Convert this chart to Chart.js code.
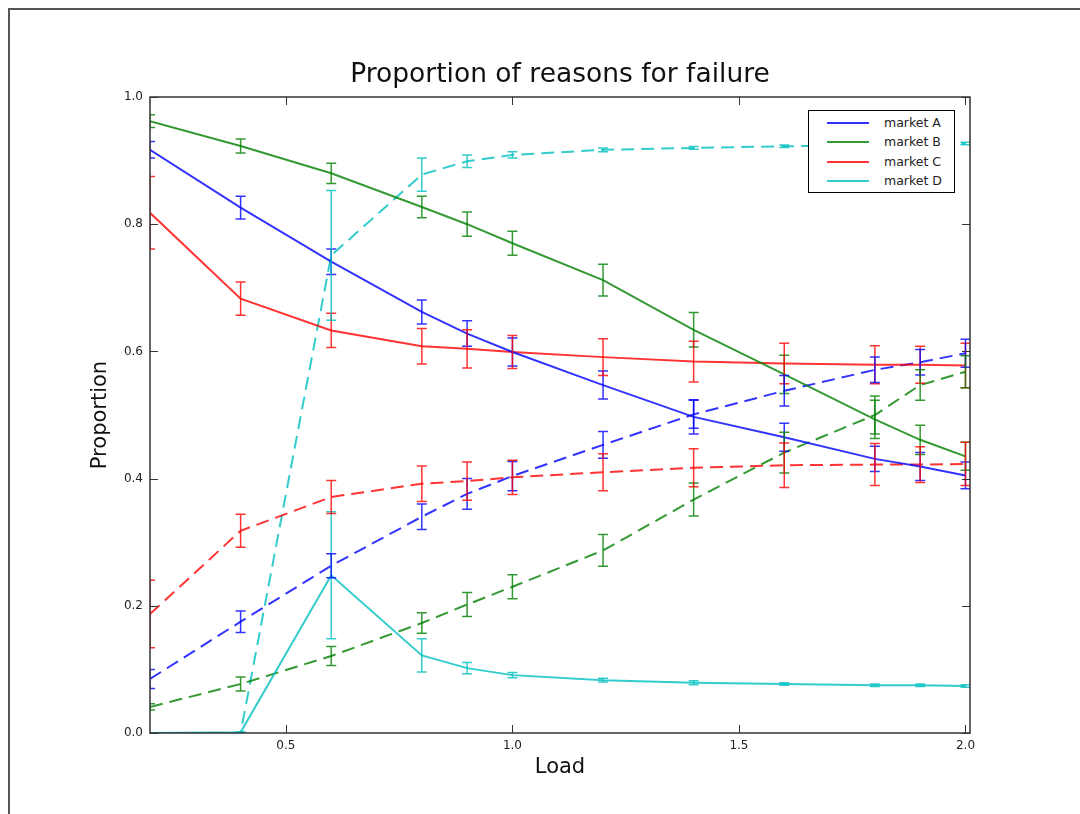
<!DOCTYPE html>
<html>
<head>
<meta charset="utf-8">
<script src="https://cdn.jsdelivr.net/npm/chart.js@4/dist/chart.umd.min.js"></script>
<style>
  body { margin: 0; background: #fff; }
  #wrap { position: relative; width: 1080px; height: 814px; overflow: hidden; }
  #frame { position: absolute; left: 8px; top: 8px; width: 1100px; height: 840px;
           border-left: 2px solid #555; border-top: 2px solid #555; }
  #myChart { position: absolute; left: 0; top: 0; }
  #legend { position: absolute; left: 808px; top: 110px; width: 145px; height: 81px;
            border: 1px solid #000; background: #fff;
            font-family: "DejaVu Sans", sans-serif; font-size: 12.5px; color: #222; }
  .row { position: absolute; left: 0; height: 16px; line-height: 16px; }
  .row span.ln { position: absolute; left: 18px; top: 7px; width: 42px; height: 0; border-top: 2px solid; }
  .row span.tx { position: absolute; left: 75px; top: 0; white-space: nowrap; }
</style>
</head>
<body>
<div id="wrap">
  <div id="frame"></div>
  <canvas id="myChart" width="1080" height="814"></canvas>
  <div id="legend"></div>
</div>
<script>
// loads on the x axis
let loads = [0.2, 0.4, 0.6, 0.8, 0.9, 1.0, 1.2, 1.4, 1.6, 1.8, 1.9, 2.0]

// solid lines and their error sizes
let aSolid = [0.917, 0.826, 0.741, 0.662, 0.628, 0.599, 0.547, 0.497, 0.465, 0.431, 0.419, 0.405]
let aSolidErr = [0.013, 0.018, 0.020, 0.019, 0.020, 0.022, 0.022, 0.027, 0.022, 0.020, 0.022, 0.021]
let bSolid = [0.962, 0.923, 0.880, 0.827, 0.800, 0.770, 0.712, 0.634, 0.564, 0.493, 0.461, 0.435]
let bSolidErr = [0.010, 0.011, 0.016, 0.017, 0.019, 0.019, 0.025, 0.027, 0.030, 0.030, 0.023, 0.022]
let cSolid = [0.818, 0.683, 0.633, 0.608, 0.604, 0.599, 0.591, 0.584, 0.581, 0.579, 0.579, 0.578]
let cSolidErr = [0.057, 0.026, 0.027, 0.028, 0.030, 0.026, 0.029, 0.032, 0.032, 0.030, 0.029, 0.035]
let dSolid = [0.0, 0.001, 0.248, 0.122, 0.102, 0.091, 0.083, 0.079, 0.077, 0.075, 0.075, 0.074]
let dSolidErr = [0.0, 0.001, 0.100, 0.026, 0.009, 0.004, 0.003, 0.003, 0.002, 0.002, 0.002, 0.002]

// dashed lines
let aDash = [0.085, 0.175, 0.263, 0.340, 0.376, 0.404, 0.453, 0.501, 0.538, 0.571, 0.583, 0.597]
let aDashErr = [0.015, 0.017, 0.019, 0.020, 0.024, 0.023, 0.021, 0.022, 0.024, 0.020, 0.020, 0.022]
let bDash = [0.041, 0.077, 0.121, 0.173, 0.202, 0.230, 0.287, 0.367, 0.441, 0.500, 0.547, 0.568]
let bDashErr = [0.005, 0.011, 0.015, 0.016, 0.019, 0.019, 0.025, 0.026, 0.032, 0.030, 0.024, 0.025]
let cDash = [0.187, 0.318, 0.371, 0.392, 0.396, 0.402, 0.410, 0.417, 0.421, 0.422, 0.422, 0.423]
let cDashErr = [0.053, 0.026, 0.026, 0.028, 0.030, 0.027, 0.029, 0.030, 0.035, 0.033, 0.028, 0.034]
let dDash = [0.0, 0.0, 0.751, 0.878, 0.899, 0.909, 0.917, 0.920, 0.9225, 0.924, 0.924, 0.927]
let dDashErr = [0.0, 0.0, 0.102, 0.026, 0.010, 0.005, 0.003, 0.002, 0.002, 0.002, 0.002, 0.002]

let xTicks = [0.5, 1.0, 1.5, 2.0]
let yTicks = [0.0, 0.2, 0.4, 0.6, 0.8, 1.0]

let marketNames = ['market A', 'market B', 'market C', 'market D']
let marketColors = ['rgba(0,0,255,0.8)', 'rgba(0,128,0,0.8)', 'rgba(255,0,0,0.8)', 'rgba(0,191,191,0.8)']

function pts(vals) {
  return vals.map((v, i) => ({ x: loads[i], y: v }))
}

function makeSet(label, vals, errs, color, dashed) {
  return {
    label: label,
    data: pts(vals),
    errs: errs,
    borderColor: color,
    backgroundColor: color,
    borderWidth: 2,
    borderDash: dashed ? [13, 7] : [],
    pointRadius: 0,
    tension: 0,
    fill: false
  }
}

let solids = [aSolid, bSolid, cSolid, dSolid]
let solidErrs = [aSolidErr, bSolidErr, cSolidErr, dSolidErr]
let dashes = [aDash, bDash, cDash, dDash]
let dashErrs = [aDashErr, bDashErr, cDashErr, dDashErr]

let datasets = []
for (let i = 0; i < 4; i++) {
  datasets.push(makeSet(marketNames[i], solids[i], solidErrs[i], marketColors[i], false))
}
for (let i = 0; i < 4; i++) {
  datasets.push(makeSet(marketNames[i] + ' (dashed)', dashes[i], dashErrs[i], marketColors[i], true))
}

// error bars with caps
const errorBars = {
  id: 'errorBars',
  afterDatasetsDraw(chart) {
    const c = chart.ctx, a = chart.chartArea
    const xs = chart.scales.x, ys = chart.scales.y
    c.save()
    c.beginPath()
    c.rect(a.left, a.top, a.right - a.left, a.bottom - a.top)
    c.clip()
    c.lineWidth = 1.5
    chart.data.datasets.forEach(ds => {
      c.strokeStyle = ds.borderColor
      ds.data.forEach((p, i) => {
        const e = ds.errs[i]
        if (!e) return
        const px = xs.getPixelForValue(p.x)
        const y1 = ys.getPixelForValue(p.y + e)
        const y2 = ys.getPixelForValue(p.y - e)
        c.beginPath()
        c.moveTo(px, y1); c.lineTo(px, y2)
        c.moveTo(px - 5, y1); c.lineTo(px + 5, y1)
        c.moveTo(px - 5, y2); c.lineTo(px + 5, y2)
        c.stroke()
      })
    })
    c.restore()
  }
}

// box round the plot and inward tick marks
const frameTicks = {
  id: 'frameTicks',
  afterDraw(chart) {
    const c = chart.ctx, a = chart.chartArea
    const xs = chart.scales.x, ys = chart.scales.y
    c.save()
    c.strokeStyle = '#333'
    c.lineWidth = 1.5
    c.strokeRect(a.left, a.top, a.right - a.left, a.bottom - a.top)
    c.lineWidth = 1
    c.beginPath()
    xTicks.forEach(t => {
      const px = Math.round(xs.getPixelForValue(t)) + 0.5
      c.moveTo(px, a.bottom); c.lineTo(px, a.bottom - 8)
      c.moveTo(px, a.top); c.lineTo(px, a.top + 8)
    })
    yTicks.forEach(t => {
      const py = Math.round(ys.getPixelForValue(t)) + 0.5
      c.moveTo(a.left, py); c.lineTo(a.left + 8, py)
      c.moveTo(a.right, py); c.lineTo(a.right - 8, py)
    })
    c.stroke()
    c.restore()
  }
}

const ctx = document.getElementById('myChart')
let chart_test = new Chart(ctx, {
  type: 'line',
  data: { datasets: datasets },
  plugins: [errorBars, frameTicks],
  options: {
    responsive: false,
    animation: false,
    layout: { padding: { left: 0, right: 110, top: 0, bottom: 0 } },
    plugins: {
      legend: { display: false },
      tooltip: { enabled: false },
      title: {
        display: true,
        fullSize: false, // centre over the plot box only
        text: 'Proportion of reasons for failure',
        color: '#111',
        font: { family: 'DejaVu Sans', size: 26.5, weight: 'normal', lineHeight: 1.2 },
        padding: { top: 59, bottom: 6.2 }
      }
    },
    scales: {
      x: {
        type: 'linear',
        min: 0.2,
        max: 2.01,
        afterBuildTicks: s => { s.ticks = xTicks.map(v => ({ value: v })) },
        afterFit: s => { s.height = 81 },
        grid: { display: false, drawTicks: false },
        border: { display: false },
        ticks: {
          padding: 6,
          color: '#222',
          font: { family: 'DejaVu Sans', size: 12 },
          callback: v => Number(v).toFixed(1)
        },
        title: {
          display: true,
          text: 'Load',
          color: '#111',
          font: { family: 'DejaVu Sans', size: 21, lineHeight: 1.2 },
          padding: { top: 0, bottom: 33.4 }
        }
      },
      y: {
        min: 0,
        max: 1,
        afterBuildTicks: s => { s.ticks = yTicks.map(v => ({ value: v })) },
        afterFit: s => { s.width = 150 },
        grid: { display: false, drawTicks: false },
        border: { display: false },
        ticks: {
          padding: 7,
          color: '#222',
          font: { family: 'DejaVu Sans', size: 12 },
          callback: v => Number(v).toFixed(1)
        },
        title: {
          display: true,
          text: 'Proportion',
          color: '#111',
          font: { family: 'DejaVu Sans', size: 21, lineHeight: 1.2 },
          padding: { top: 88.4, bottom: 0 }
        }
      }
    }
  }
})

// legend inside the plot, solid entries only
const leg = document.getElementById('legend')
marketNames.forEach((name, i) => {
  const row = document.createElement('div')
  row.className = 'row'
  row.style.top = (4 + i * 19.3) + 'px'
  row.style.width = '145px'
  row.innerHTML = '<span class="ln" style="border-color:' + marketColors[i] + '"></span><span class="tx">' + name + '</span>'
  leg.appendChild(row)
})
</script>
</body>
</html>
